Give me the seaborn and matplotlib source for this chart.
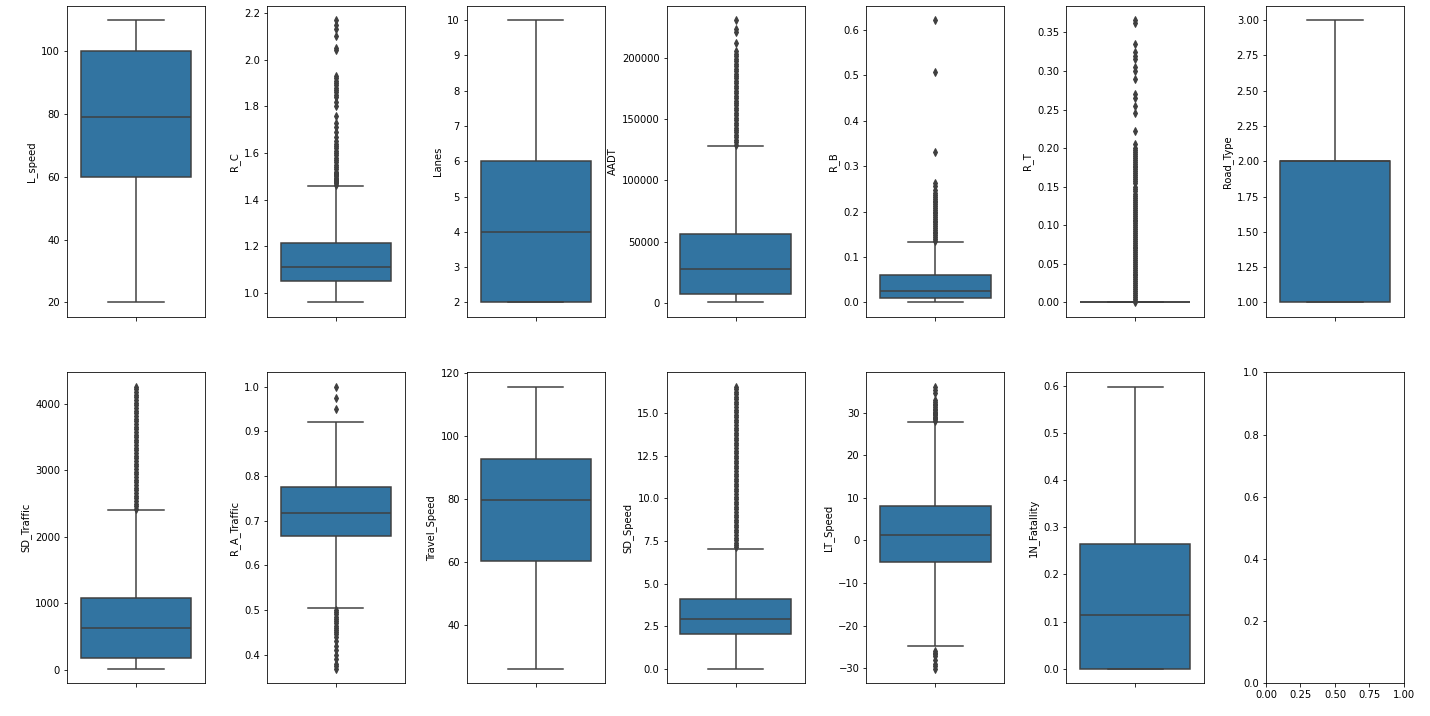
import numpy as np
import matplotlib
matplotlib.use("Agg")
import matplotlib.pyplot as plt
import seaborn as sns

# box stats per column: [lower whisker, q1, median, q3, upper whisker]
# plus the outliers
L_speed_box = [20, 60, 79, 100, 110]
L_speed_out = []

R_C_box = [0.96, 1.05, 1.11, 1.215, 1.46]
R_C_out = [1.465, 1.47, 1.475, 1.48, 1.485, 1.49, 1.495, 1.50, 1.505, 1.51, 1.515,
           1.52, 1.53, 1.54, 1.55, 1.56, 1.57, 1.58, 1.59, 1.60, 1.61, 1.62, 1.63,
           1.64, 1.65, 1.67, 1.69, 1.71, 1.73, 1.76, 1.80, 1.82, 1.84, 1.85, 1.86,
           1.87, 1.88, 1.89, 1.90, 1.91, 1.92, 1.93, 2.04, 2.05, 2.10, 2.13, 2.15, 2.17]

Lanes_box = [2, 2, 4, 6, 10]
Lanes_out = []

AADT_box = [500, 7500, 27500, 56000, 128000]
AADT_out = [129000, 131000, 133000, 135000, 137000, 139000, 141000, 143000, 145000,
            147000, 149000, 151000, 153000, 155000, 157000, 159000, 161000, 163000,
            165000, 167000, 169000, 171000, 173000, 175000, 177000, 179000, 181000,
            183000, 185000, 187000, 189000, 191000, 193000, 195000, 197000, 199000,
            201000, 203000, 205000, 212000, 221000, 223000, 230500]

R_B_box = [0.0, 0.010, 0.026, 0.060, 0.134]
R_B_out = [0.136, 0.140, 0.144, 0.148, 0.152, 0.156, 0.160, 0.164, 0.168, 0.172,
           0.176, 0.180, 0.184, 0.188, 0.192, 0.196, 0.200, 0.204, 0.208, 0.212,
           0.216, 0.220, 0.224, 0.228, 0.232, 0.236, 0.240, 0.248, 0.256, 0.262,
           0.332, 0.508, 0.621]

R_T_box = [0, 0, 0, 0, 0]
R_T_out = [0.0005, 0.0025, 0.005, 0.0075, 0.010, 0.0125, 0.015, 0.0175, 0.020,
           0.0225, 0.025, 0.0275, 0.030, 0.0325, 0.035, 0.0375, 0.040, 0.0425,
           0.045, 0.0475, 0.050, 0.0525, 0.055, 0.0575, 0.060, 0.0625, 0.065,
           0.0675, 0.070, 0.0725, 0.075, 0.0775, 0.080, 0.0825, 0.085, 0.0875,
           0.090, 0.0925, 0.095, 0.0975, 0.100, 0.1025, 0.105, 0.1075, 0.110,
           0.1125, 0.115, 0.1175, 0.120, 0.1225, 0.125, 0.1275, 0.130, 0.1325,
           0.135, 0.1375, 0.140, 0.145, 0.1475, 0.150, 0.155, 0.1575, 0.160,
           0.1625, 0.165, 0.1675, 0.170, 0.1725, 0.175, 0.1775, 0.180, 0.1825,
           0.185, 0.1875, 0.190, 0.1925, 0.195, 0.1975, 0.200, 0.205,
           0.222, 0.245, 0.255, 0.265, 0.270, 0.290, 0.300, 0.305,
           0.315, 0.320, 0.325, 0.335, 0.362, 0.366]

Road_Type_box = [1, 1, 2, 2, 3]
Road_Type_out = []

SD_Traffic_box = [15, 185, 625, 1075, 2400]
SD_Traffic_out = [2415, 2455, 2495, 2535, 2575, 2615, 2655, 2695, 2735, 2775, 2815,
                  2855, 2895, 2935, 2975, 3015, 3055, 3095, 3135, 3175, 3215, 3255,
                  3295, 3335, 3375, 3415, 3455, 3495, 3535, 3575, 3615, 3655, 3695,
                  3735, 3775, 3815, 3855, 3895, 3935, 3975, 4015, 4055, 4095, 4135,
                  4175, 4215, 4255]

R_A_Traffic_box = [0.505, 0.666, 0.716, 0.775, 0.921]
R_A_Traffic_out = [0.950, 0.975, 1.000, 0.500, 0.495, 0.490, 0.485, 0.480, 0.475,
                   0.470, 0.465, 0.460, 0.455, 0.450, 0.445, 0.440, 0.430, 0.420,
                   0.410, 0.400, 0.390, 0.380, 0.375, 0.368]

Travel_Speed_box = [26, 60.4, 79.6, 92.7, 115.7]
Travel_Speed_out = []

SD_Speed_box = [0.0, 2.07, 2.92, 4.08, 7.05]
SD_Speed_out = [7.12, 7.25, 7.4, 7.55, 7.7, 7.85, 8.0, 8.15, 8.3, 8.45, 8.6, 8.75,
                8.9, 9.05, 9.2, 9.35, 9.5, 9.65, 9.8, 9.95, 10.1, 10.25, 10.4, 10.55,
                10.7, 10.85, 11.0, 11.15, 11.3, 11.45, 11.6, 11.75, 11.9, 12.05,
                12.2, 12.35, 12.5, 12.65, 12.8, 12.95, 13.1, 13.25, 13.4, 13.55,
                13.7, 13.85, 14.0, 14.15, 14.3, 14.45, 14.6, 14.75, 14.9, 15.05,
                15.2, 15.35, 15.5, 15.65, 15.8, 15.95, 16.1, 16.25, 16.4, 16.55]

LT_Speed_box = [-24.8, -5.15, 1.2, 8.13, 27.8]
LT_Speed_out = [28.2, 28.5, 28.8, 29.1, 29.4, 29.7, 30.0, 30.3, 30.6, 31.0, 31.4,
                31.8, 32.2, 32.6, 33.0, 34.8, 35.5, 36.2,
                -26.0, -26.4, -26.8, -27.2, -28.0, -29.0, -29.5, -30.2]

Fatality_box = [0, 0, 0.115, 0.265, 0.598]
Fatality_out = []

columns = [
    ("L_speed", L_speed_box, L_speed_out),
    ("R_C", R_C_box, R_C_out),
    ("Lanes", Lanes_box, Lanes_out),
    ("AADT", AADT_box, AADT_out),
    ("R_B", R_B_box, R_B_out),
    ("R_T", R_T_box, R_T_out),
    ("Road_Type", Road_Type_box, Road_Type_out),
    ("SD_Traffic", SD_Traffic_box, SD_Traffic_out),
    ("R_A_Traffic", R_A_Traffic_box, R_A_Traffic_out),
    ("Travel_Speed", Travel_Speed_box, Travel_Speed_out),
    ("SD_Speed", SD_Speed_box, SD_Speed_out),
    ("LT_Speed", LT_Speed_box, LT_Speed_out),
    ("1N_Fatallity", Fatality_box, Fatality_out),
]

# weights so the five stats land on the right quantiles
BLOCK = [100, 200, 100, 200, 100]
LINE = "#3f3f3f"

fig, axes = plt.subplots(2, 7, figsize=(1430 / 72, 716 / 72))
fig.subplots_adjust(left=0.0469, right=0.9818, top=0.9916, bottom=0.0461,
                    wspace=0.448, hspace=0.18)

for ax, (name, box, out) in zip(axes.flat, columns):
    values = np.concatenate([np.repeat(box, BLOCK), np.array(out, dtype=float)])
    sns.boxplot(y=values, ax=ax, color="#1f77b4", saturation=0.75, width=0.8,
                linecolor=LINE, linewidth=1.5,
                flierprops=dict(marker="d", markerfacecolor=LINE,
                                markeredgecolor=LINE, markersize=5.5))
    ax.set_ylabel(name)
    ax.set_xlabel("")
    ax.set_xlim(-0.5, 0.5)
    ax.set_xticks([0])
    ax.set_xticklabels([""])

fig.savefig("out.png", dpi=72)
